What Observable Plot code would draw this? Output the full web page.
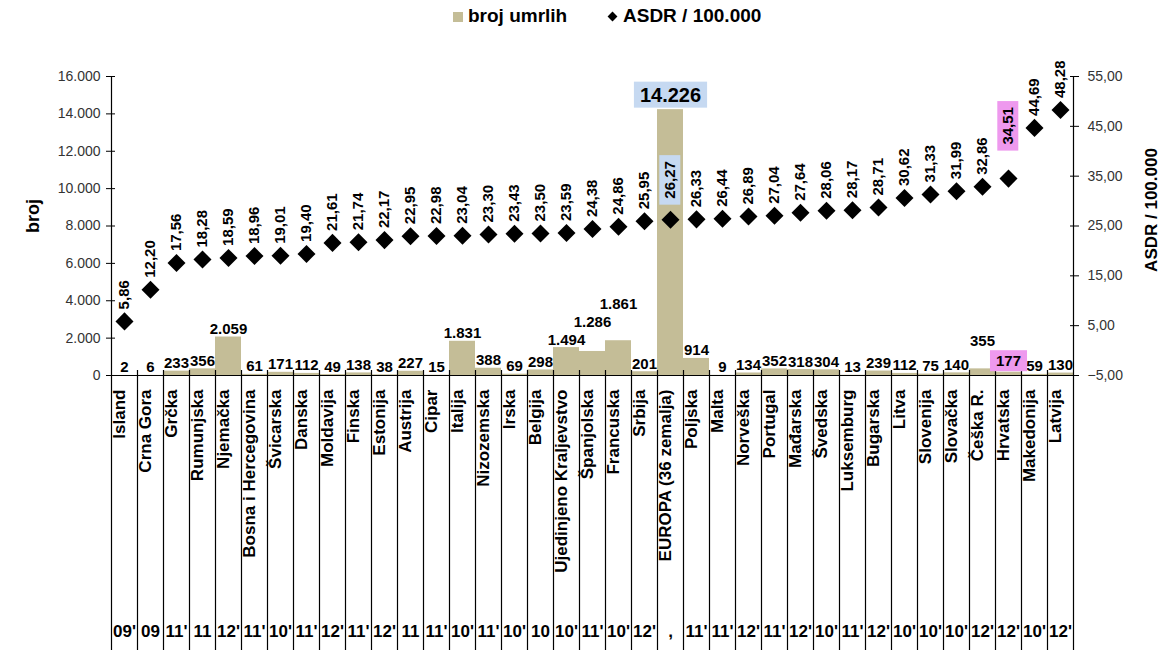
<!DOCTYPE html>
<html><head><meta charset="utf-8">
<script src="https://cdn.jsdelivr.net/npm/d3@7"></script>
<script src="https://cdn.jsdelivr.net/npm/@observablehq/plot@0.6"></script>
<style>
body{margin:0;background:#fff;font-family:"Liberation Sans",Arial,sans-serif;}
#legend{position:relative;height:35px;width:1167px;}
#legend span{position:absolute;top:5px;font-weight:bold;font-size:19px;line-height:22px;color:#000;white-space:nowrap;}
#chart svg{display:block;}
</style></head><body>
<div id="legend">
  <div style="position:absolute;left:453px;top:12px;width:10px;height:10px;background:#c4bd97"></div>
  <span style="left:468px">broj umrlih</span>
  <div style="position:absolute;left:609px;top:13px;width:7px;height:7px;background:#000;transform:rotate(45deg)"></div>
  <span style="left:623px">ASDR / 100.000</span>
</div>
<div id="chart"></div>
<script>
const categories = ["Island","Crna Gora","Grčka","Rumunjska","Njemačka","Bosna i Hercegovina","Švicarska","Danska","Moldavija","Finska","Estonija","Austrija","Cipar","Italija","Nizozemska","Irska","Belgija","Ujedinjeno Kraljevstvo","Španjolska","Francuska","Srbija","EUROPA (36 zemalja)","Poljska","Malta","Norveška","Portugal","Mađarska","Švedska","Luksemburg","Bugarska","Litva","Slovenija","Slovačka","Češka R.","Hrvatska","Makedonija","Latvija"];
const deaths = [2,6,233,356,2059,61,171,112,49,138,38,227,15,1831,388,69,298,1494,1286,1861,201,14226,914,9,134,352,318,304,13,239,112,75,140,355,177,59,130];
const asdr = [5.86,12.20,17.56,18.28,18.59,18.96,19.01,19.40,21.61,21.74,22.17,22.95,22.98,23.04,23.30,23.43,23.50,23.59,24.38,24.86,25.95,26.27,26.33,26.44,26.89,27.04,27.64,28.06,28.17,28.71,30.62,31.33,31.99,32.86,34.51,44.69,48.28];
const years = ["09'","09","11'","11","12'","11'","10'","11'","12'","11'","12'","11","11'","10'","11'","10'","10","10'","11'","10'","12'",",","11'","11'","12'","11'","12'","10'","11'","12'","10'","10'","10'","12'","12'","10'","12'"];
const leftTicks = [0,2000,4000,6000,8000,10000,12000,14000,16000];
const rightTicks = [-5,5,15,25,35,45,55];
const leftTitle = "broj";
const rightTitle = "ASDR / 100.000";
const highlightBlue = "EUROPA (36 zemalja)";
const highlightPink = "Hrvatska";

const loc = d3.formatLocale({decimal: ",", thousands: ".", grouping: [3], currency: ["", ""]});
const fmtInt = loc.format(",d");
const fmt2 = loc.format(",.2f");

const rows = categories.map((c, i) => ({cat: c, deaths: deaths[i], asdr: asdr[i], year: years[i]}));
const leftMax = leftTicks[leftTicks.length - 1];
const rMin = rightTicks[0], rMax = rightTicks[rightTicks.length - 1];
const toY = v => (v - rMin) * leftMax / (rMax - rMin);
const fromY = y => y * (rMax - rMin) / leftMax + rMin;

const W = 1167, H = 619, ml = 111, mr = 94, mt = 41, mb = 279;
const frameH = H - mt - mb;
const bw = (W - ml - mr) / categories.length;
const tableDepth = 275;

const diamond = {draw(ctx, size) {const r = Math.sqrt(size / 2); ctx.moveTo(0, -r); ctx.lineTo(r, 0); ctx.lineTo(0, r); ctx.lineTo(-r, 0); ctx.closePath();}};

const isHl = d => d.cat === highlightBlue || d.cat === highlightPink;
const normal = rows.filter(d => !isHl(d));
const blue = rows.filter(d => d.cat === highlightBlue);
const pink = rows.filter(d => d.cat === highlightPink);
const bold = {fontWeight: "bold", fill: "#000"};

const plot = Plot.plot({
  width: W, height: H, marginLeft: ml, marginRight: mr, marginTop: mt, marginBottom: mb,
  x: {type: "band", domain: categories, padding: 0, round: false, axis: null},
  y: {domain: [0, leftMax]},
  style: {fontFamily: "Liberation Sans, Arial, sans-serif", fontSize: "14px", background: "white", overflow: "visible"},
  marks: [
    Plot.barY(rows, {x: "cat", y: "deaths", fill: "#c4bd97"}),
    Plot.ruleX(categories.slice(1), {x: d => d, dx: -bw / 2, insetTop: frameH - 5, insetBottom: -tableDepth, stroke: "#000", strokeWidth: 1.2}),
    Plot.ruleX([categories[0]], {x: d => d, dx: -bw / 2, insetBottom: -tableDepth, stroke: "#000", strokeWidth: 1.2}),
    Plot.ruleX([categories[categories.length - 1]], {x: d => d, dx: bw / 2, insetBottom: -tableDepth, stroke: "#000", strokeWidth: 1.2}),
    Plot.ruleY([0], {stroke: "#000", strokeWidth: 1.2}),
    Plot.axisY(leftTicks, {anchor: "left", tickSize: 9, dx: 4, tickPadding: 6, tickFormat: d => fmtInt(d), fontSize: 14, fill: "#333", stroke: "#000", label: null}),
    Plot.axisY(rightTicks.map(toY), {anchor: "right", tickSize: 9, dx: -4, tickPadding: 9, tickFormat: d => fmt2(fromY(d)), fontSize: 14, fill: "#333", stroke: "#000", label: null}),
    Plot.text([leftTitle], {frameAnchor: "left", textAnchor: "middle", dx: -78, dy: -10, rotate: -90, fontSize: 18, ...bold}),
    Plot.text([rightTitle], {frameAnchor: "right", textAnchor: "middle", dx: 78, dy: -16, rotate: -90, fontSize: 17, ...bold}),
    Plot.dot(rows, {x: "cat", y: d => toY(d.asdr), symbol: diamond, r: 7.2, fill: "#000", stroke: null}),
    Plot.text(normal, {x: "cat", y: "deaths", text: d => fmtInt(d.deaths), lineAnchor: "bottom", dy: -3, fontSize: 15, ...bold, ariaDescription: "barlab"}),
    Plot.text(blue, {x: "cat", y: "deaths", text: d => fmtInt(d.deaths), lineAnchor: "bottom", dy: -8, fontSize: 20, ...bold, ariaDescription: "hl-blue"}),
    Plot.text(pink, {x: "cat", y: "deaths", text: d => fmtInt(d.deaths), lineAnchor: "bottom", dy: -6, fontSize: 15, ...bold, ariaDescription: "hl-pink barlab prio"}),
    Plot.text(normal, {x: "cat", y: d => toY(d.asdr), text: d => fmt2(d.asdr), rotate: -90, textAnchor: "start", dy: -12, fontSize: 15, ...bold}),
    Plot.text(blue, {x: "cat", y: d => toY(d.asdr), text: d => fmt2(d.asdr), rotate: -90, textAnchor: "start", dy: -21, fontSize: 15, ...bold, ariaDescription: "hl-blue"}),
    Plot.text(pink, {x: "cat", y: d => toY(d.asdr), text: d => fmt2(d.asdr), rotate: -90, textAnchor: "start", dy: -34, fontSize: 15, ...bold, ariaDescription: "hl-pink"}),
    Plot.text(rows, {x: "cat", text: "cat", frameAnchor: "bottom", rotate: -90, textAnchor: "end", dy: 14, fontSize: 17, ...bold}),
    Plot.text(rows, {x: "cat", text: "year", frameAnchor: "bottom", dy: 261, fontSize: 17, ...bold})
  ]
});
document.getElementById("chart").appendChild(plot);

const boxPadX = 6, boxPadY = 2;

// stagger bar value labels that would collide with a neighbour (highlighted ones placed first)
const prio = [], labs = [];
d3.select(plot).selectAll('g[aria-description~="barlab"] text').each(function() {
  (this.parentNode.getAttribute("aria-description") || "").includes("prio") ? prio.push(this) : labs.push(this);
});
labs.sort((a, b) => a.getBoundingClientRect().x - b.getBoundingClientRect().x);
const placed = prio.map(el => {
  const r = el.getBoundingClientRect();
  return {left: r.left - boxPadX, right: r.right + boxPadX, top: r.top - boxPadY, bottom: r.bottom + boxPadY};
});
const tol = 3;
for (const el of labs) {
  const base = el.getAttribute("transform") || "";
  let shift = 0;
  for (let iter = 0; iter < 10; iter++) {
    const r = el.getBoundingClientRect();
    const top = r.top - shift, bottom = r.bottom - shift;
    const hit = placed.find(p => r.left < p.right - tol && r.right > p.left + tol && top < p.bottom && bottom > p.top);
    if (!hit) break;
    shift += bottom - hit.top + 1;
  }
  if (shift) el.setAttribute("transform", `translate(0,${-shift}) ${base}`);
  const r = el.getBoundingClientRect();
  placed.push({left: r.left, right: r.right, top: r.top, bottom: r.bottom});
}

// highlight boxes
const ns = "http://www.w3.org/2000/svg";
[["hl-blue", "#c6d9f1"], ["hl-pink", "#ee99ee"]].forEach(([lab, color]) => {
  d3.select(plot).selectAll(`g[aria-description~="${lab}"] text`).each(function() {
    const b = this.getBBox();
    const r = document.createElementNS(ns, "rect");
    r.setAttribute("x", b.x - boxPadX); r.setAttribute("y", b.y - boxPadY);
    r.setAttribute("width", b.width + 2 * boxPadX); r.setAttribute("height", b.height + 2 * boxPadY);
    r.setAttribute("fill", color);
    const t = this.getAttribute("transform");
    if (t) r.setAttribute("transform", t);
    this.parentNode.insertBefore(r, this);
  });
});
</script>
</body></html>
